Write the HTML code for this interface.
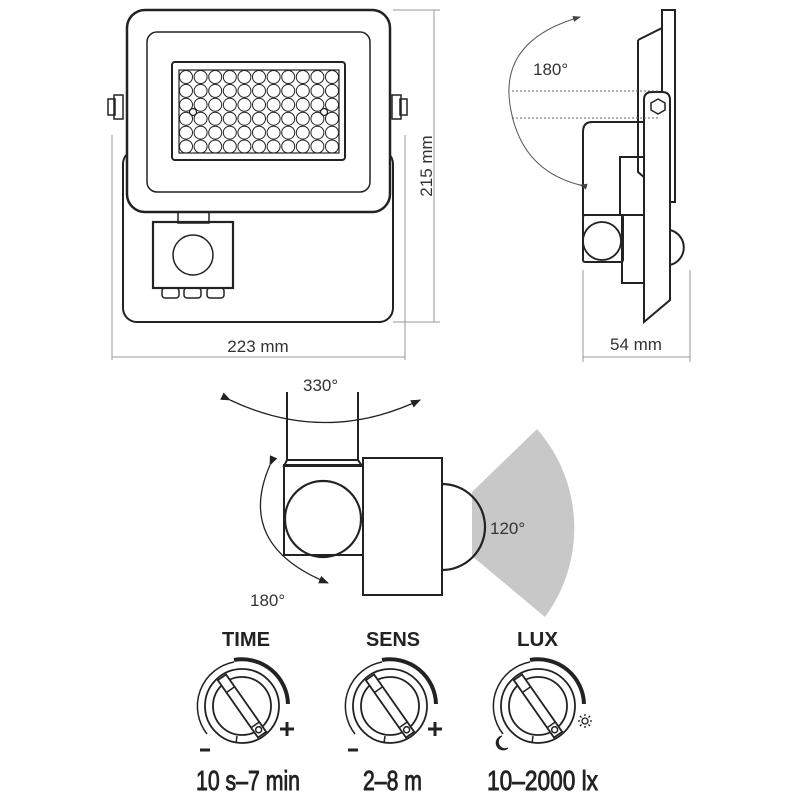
<!DOCTYPE html>
<html><head><meta charset="utf-8"><style>
html,body{margin:0;padding:0;background:#fff}
svg{display:block}
text{font-family:"Liberation Sans",sans-serif}
</style></head><body>
<svg width="800" height="800" viewBox="0 0 800 800" xmlns="http://www.w3.org/2000/svg">
<defs>
<marker id="ar" markerWidth="10" markerHeight="8" refX="9" refY="4" orient="auto" markerUnits="userSpaceOnUse"><path d="M0,0 L10,4 L0,8 z" fill="#222"/></marker>
<marker id="ars" markerWidth="8" markerHeight="6" refX="7" refY="3" orient="auto" markerUnits="userSpaceOnUse"><path d="M0,0 L8,3 L0,6 z" fill="#444"/></marker>
</defs>
<g fill="none" stroke="#222" stroke-width="2">
<rect x="123" y="150" width="270" height="172" rx="14"/>
<rect x="127" y="10" width="263" height="202" rx="18" fill="#fff" stroke-width="2.5"/>
<rect x="147" y="32" width="223" height="160" rx="10" stroke-width="1.5"/>
<rect x="172" y="62" width="173" height="98" rx="3" stroke-width="2"/>
<rect x="179" y="70" width="160" height="83" stroke-width="1.2"/>
<g stroke-width="1" id="leds"></g>
<circle cx="193" cy="112" r="3.5" stroke-width="1.2"/>
<circle cx="324" cy="112" r="3.5" stroke-width="1.2"/>
<rect x="114" y="95" width="9" height="24" stroke-width="1.5"/>
<rect x="108" y="99" width="7" height="16" stroke-width="1.5"/>
<rect x="392" y="95" width="9" height="24" stroke-width="1.5"/>
<rect x="400" y="99" width="7" height="16" stroke-width="1.5"/>
<rect x="178" y="212" width="31" height="11" stroke-width="1.5"/>
<rect x="153" y="222" width="80" height="66" stroke-width="2.2"/>
<circle cx="193" cy="255" r="20" stroke-width="1.5"/>
<rect x="162" y="288" width="17" height="10" rx="3" stroke-width="1.5"/>
<rect x="184" y="288" width="17" height="10" rx="3" stroke-width="1.5"/>
<rect x="207" y="288" width="17" height="10" rx="3" stroke-width="1.5"/>
</g>
<g stroke="#999" stroke-width="1" fill="none">
<line x1="112" y1="135" x2="112" y2="360"/>
<line x1="405" y1="135" x2="405" y2="360"/>
<line x1="112" y1="357" x2="405" y2="357"/>
<line x1="393" y1="10" x2="440" y2="10"/>
<line x1="393" y1="322" x2="440" y2="322"/>
<line x1="434" y1="10" x2="434" y2="322"/>
</g>
<text x="258" y="352" font-size="17" fill="#333" text-anchor="middle">223 mm</text>
<text x="0" y="0" font-size="17" fill="#333" text-anchor="middle" transform="translate(432,166) rotate(-90)">215 mm</text>

<g fill="none" stroke="#222" stroke-width="2">
<rect x="662" y="10" width="13" height="192" fill="#fff"/>
<path d="M638,40 L662,28 M638,40 L638,172 L645,178" />
<path d="M644,322 L644,100 Q644,92 652,92 L662,92 Q670,92 670,100 L670,300 Z" fill="#fff"/>
<polygon points="658,99 665,103 665,110 658,114 651,110 651,103" stroke-width="1.5"/>
<path d="M644,122 L592,122 Q583,122 583,132 L583,215 L620,215 L620,157 L644,157" />
<rect x="583" y="215" width="40" height="47" rx="2"/>
<circle cx="602" cy="241" r="19" stroke-width="1.8"/>
<rect x="622" y="215" width="22" height="68"/>
<path d="M670,230 A18,18 0 0 1 670,265" />
</g>
<g stroke="#666" stroke-width="1" fill="none" stroke-dasharray="2,2">
<line x1="512" y1="91" x2="658" y2="91"/>
<line x1="512" y1="118" x2="658" y2="118"/>
</g>
<path d="M580,185 Q520,170 510,105 Q500,40 580,17" stroke="#555" stroke-width="1" fill="none" marker-end="url(#ars)" marker-start="url(#ars)"/>
<text x="533" y="75" font-size="17" fill="#333">180°</text>
<g stroke="#999" stroke-width="1">
<line x1="583" y1="270" x2="583" y2="362"/>
<line x1="690" y1="270" x2="690" y2="362"/>
<line x1="583" y1="357" x2="690" y2="357"/>
</g>
<text x="636" y="350" font-size="17" fill="#333" text-anchor="middle">54 mm</text>

<path d="M472,492 L537,429 A150,150 0 0 1 545,617 L472,556 Z" fill="#c8c8c8"/>
<g fill="none" stroke="#222" stroke-width="2">
<line x1="287" y1="392" x2="287" y2="460"/>
<line x1="358" y1="392" x2="358" y2="460"/>
<path d="M287,460 L358,460 L362,466 L284,466 Z"/>
<rect x="284" y="465" width="79" height="90"/>
<circle cx="323" cy="519" r="38" stroke-width="2.2"/>
<rect x="363" y="458" width="79" height="137" fill="#fff"/>
<path d="M442,484 A43,43 0 0 1 442,570" stroke-width="2.2"/>
</g>
<path d="M230,400 Q325,445 420,400" stroke="#222" stroke-width="1.3" fill="none" marker-end="url(#ar)" marker-start="url(#ar)"/>
<path d="M270,465 Q235,545 328,583" stroke="#222" stroke-width="1.3" fill="none" marker-end="url(#ar)" marker-start="url(#ar)"/>
<text x="303" y="391" font-size="17" fill="#333">330°</text>
<text x="490" y="534" font-size="17" fill="#333">120°</text>
<text x="250" y="606" font-size="17" fill="#333">180°</text>

<g font-weight="bold" fill="#222" font-size="20">
<text x="222" y="646" textLength="48" lengthAdjust="spacingAndGlyphs">TIME</text>
<text x="366" y="646" textLength="54" lengthAdjust="spacingAndGlyphs">SENS</text>
<text x="517" y="646" textLength="41" lengthAdjust="spacingAndGlyphs">LUX</text>
</g>
<g fill="#222" font-size="28" stroke="#222" stroke-width="0.9">
<text x="196" y="790" textLength="104" lengthAdjust="spacingAndGlyphs">10 s–7 min</text>
<text x="363" y="790" textLength="59" lengthAdjust="spacingAndGlyphs">2–8 m</text>
<text x="487" y="790" textLength="111" lengthAdjust="spacingAndGlyphs">10–2000 lx</text>
</g>
<g fill="none" stroke="#222">
<g transform="translate(242,706)">
<circle r="29" stroke-width="1.8"/>
<circle r="37" stroke-width="1.8"/>
<path d="M-35,28 A45,45 0 0 1 -8,-44" stroke-width="1.5"/>
<path d="M-8,-46 A46,46 0 0 1 46,-2" stroke-width="4"/>
<g transform="rotate(-35)"><rect x="-5" y="-35" width="10" height="70" fill="#fff" stroke-width="1.8"/><line x1="-5" y1="-20" x2="5" y2="-20" stroke-width="1.5"/><line x1="-5" y1="23" x2="5" y2="23" stroke-width="1.5"/><circle cx="0" cy="29" r="3" stroke-width="1.5"/></g>
<line x1="-5" y1="30" x2="-6" y2="37" stroke-width="1.5"/>
<line x1="45" y1="16" x2="45" y2="30" stroke-width="3"/><line x1="38" y1="23" x2="52" y2="23" stroke-width="3"/>
<line x1="-42" y1="44" x2="-32" y2="44" stroke-width="3"/>
</g>
<g transform="translate(390,706)">
<circle r="29" stroke-width="1.8"/>
<circle r="37" stroke-width="1.8"/>
<path d="M-35,28 A45,45 0 0 1 -8,-44" stroke-width="1.5"/>
<path d="M-8,-46 A46,46 0 0 1 46,-2" stroke-width="4"/>
<g transform="rotate(-35)"><rect x="-5" y="-35" width="10" height="70" fill="#fff" stroke-width="1.8"/><line x1="-5" y1="-20" x2="5" y2="-20" stroke-width="1.5"/><line x1="-5" y1="23" x2="5" y2="23" stroke-width="1.5"/><circle cx="0" cy="29" r="3" stroke-width="1.5"/></g>
<line x1="-5" y1="30" x2="-6" y2="37" stroke-width="1.5"/>
<line x1="45" y1="16" x2="45" y2="30" stroke-width="3"/><line x1="38" y1="23" x2="52" y2="23" stroke-width="3"/>
<line x1="-42" y1="44" x2="-32" y2="44" stroke-width="3"/>
</g>
<g transform="translate(538,706)">
<circle r="29" stroke-width="1.8"/>
<circle r="37" stroke-width="1.8"/>
<path d="M-35,28 A45,45 0 0 1 -8,-44" stroke-width="1.5"/>
<path d="M-8,-46 A46,46 0 0 1 46,-2" stroke-width="4"/>
<g transform="rotate(-35)"><rect x="-5" y="-35" width="10" height="70" fill="#fff" stroke-width="1.8"/><line x1="-5" y1="-20" x2="5" y2="-20" stroke-width="1.5"/><line x1="-5" y1="23" x2="5" y2="23" stroke-width="1.5"/><circle cx="0" cy="29" r="3" stroke-width="1.5"/></g>
<line x1="-5" y1="30" x2="-6" y2="37" stroke-width="1.5"/>
<circle cx="47" cy="15" r="3" stroke-width="1.3"/>
<path d="M47,8V10M47,20V22M40,15H42M52,15H54M42,10L43.5,11.5M52,10L50.5,11.5M42,20L43.5,18.5M52,20L50.5,18.5" stroke-width="1.3"/>
<path d="M-36,30 A7,7 0 1 0 -30,42 A5,5 0 0 1 -36,30 Z" fill="#222" stroke-width="1"/>
</g>
</g>
</svg>
<script>
var g=document.getElementById('leds');var s='';
for(var r=0;r<6;r++)for(var c=0;c<11;c++){s+='<circle cx="'+(186+c*14.6)+'" cy="'+(77+r*13.9)+'" r="6.5"/>';}
g.innerHTML=s;
</script>
</body></html>
